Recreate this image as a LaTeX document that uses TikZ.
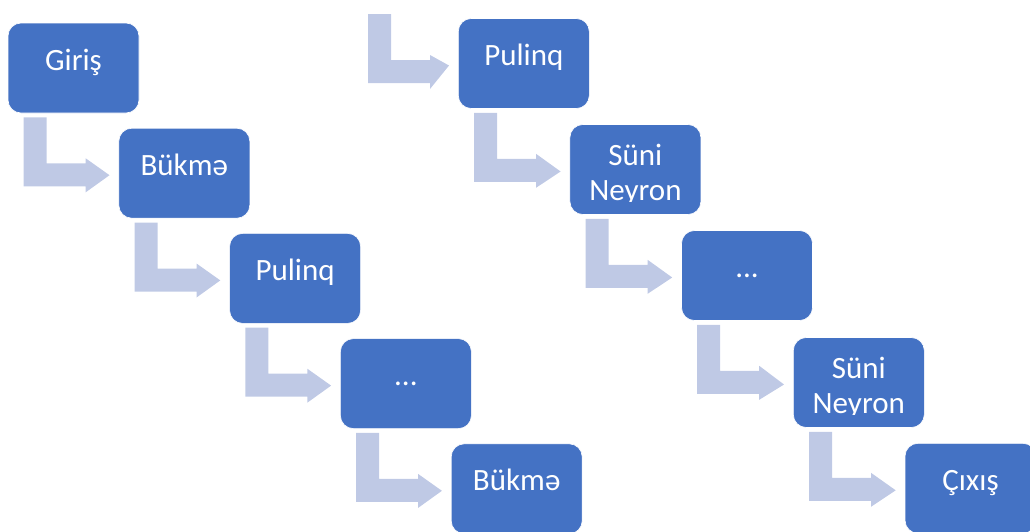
\documentclass[tikz,border=0pt]{standalone}
\usepackage{fontspec}
\setmainfont{Carlito}
\usetikzlibrary{calc}

\definecolor{boxblue}{RGB}{68,114,196}
\definecolor{bendfill}{RGB}{191,201,229}

\tikzset{
  stage/.style={fill=boxblue, draw=white, line width=0.6pt, rounded corners=13pt,
                minimum width=131pt, minimum height=90pt, inner sep=0pt},
  stagefont/.style={text=white, inner sep=0pt, font=\fontsize{31}{34.5}\selectfont},
  bentshape/.style={fill=bendfill}
}

% bent arrow leaving below a box (#1 = its south west corner) and pointing at box #2
\newcommand\bendarrow[2]{%
  \fill[bentshape] ($#1+(16,-4)$) -- ($#1+(39,-4)$) -- ($#1+(39,-50)$) -- ($#1+(78,-50)$)
    -- ($#1+(78,-45)$) -- ($(#2.west)+(-9,-2)$) -- ($#1+(78,-79)$) -- ($#1+(78,-73)$)
    -- ($#1+(16,-73)$) -- cycle;}

% text of a box, cut off a little above the box bottom
\newcommand\stagetext[4]{% #1 box, #2 name, #3 vertical shift, #4 text
  \begin{scope}
    \clip ($(#1.south west)+(-2,13.5)$) rectangle ($(#1.north east)+(2,2)$);
    \node[stagefont, anchor=base] (#2) at ($(#1.center)+(0,#3)$) {#4};
  \end{scope}}

\begin{document}
\begin{tikzpicture}[x=1pt, y=1pt]
\useasboundingbox (0,0) rectangle (1030,-531);

% left chain
\node[stage] (l1) at (73.5,-68) {};
\node[stage] (l2) at (184.3,-173.2) {};
\node[stage] (l3) at (295.1,-278.4) {};
\node[stage] (l4) at (405.9,-383.6) {};
\node[stage] (l5) at (516.7,-488.8) {};

% right chain
\node[stage] (r1) at (523.8,-63.5) {};
\node[stage] (r2) at (635.4,-169.5) {};
\node[stage] (r3) at (747.0,-275.5) {};
\node[stage] (r4) at (858.8,-382.5) {};
\node[stage] (r5) at (970.5,-488.3) {};

\stagetext{l1}{tl1}{-2}{Giriş}
\stagetext{l2}{tl2}{-2}{Bükmə}
\stagetext{l3}{tl3}{-2}{Pulinq}
\stagetext{l4}{tl4}{-2}{...}
\stagetext{l5}{tl5}{-2}{Bükmə}

\stagetext{r1}{tr1}{-2}{Pulinq}
\stagetext{r2}{tr2}{4}{\begin{tabular}[t]{@{}c@{}}Süni\\Neyron\end{tabular}}
\stagetext{r3}{tr3}{-2}{...}
\stagetext{r4}{tr4}{4}{\begin{tabular}[t]{@{}c@{}}Süni\\Neyron\end{tabular}}
\stagetext{r5}{tr5}{-2}{Çıxış}

% bent connectors
\bendarrow{(l1.south west)}{l2}
\bendarrow{(l2.south west)}{l3}
\bendarrow{(l3.south west)}{l4}
\bendarrow{(l4.south west)}{l5}

\coordinate (feed) at (352,-10);
\bendarrow{(feed)}{r1}
\bendarrow{(r1.south west)}{r2}
\bendarrow{(r2.south west)}{r3}
\bendarrow{(r3.south west)}{r4}
\bendarrow{(r4.south west)}{r5}
\end{tikzpicture}
\end{document}
